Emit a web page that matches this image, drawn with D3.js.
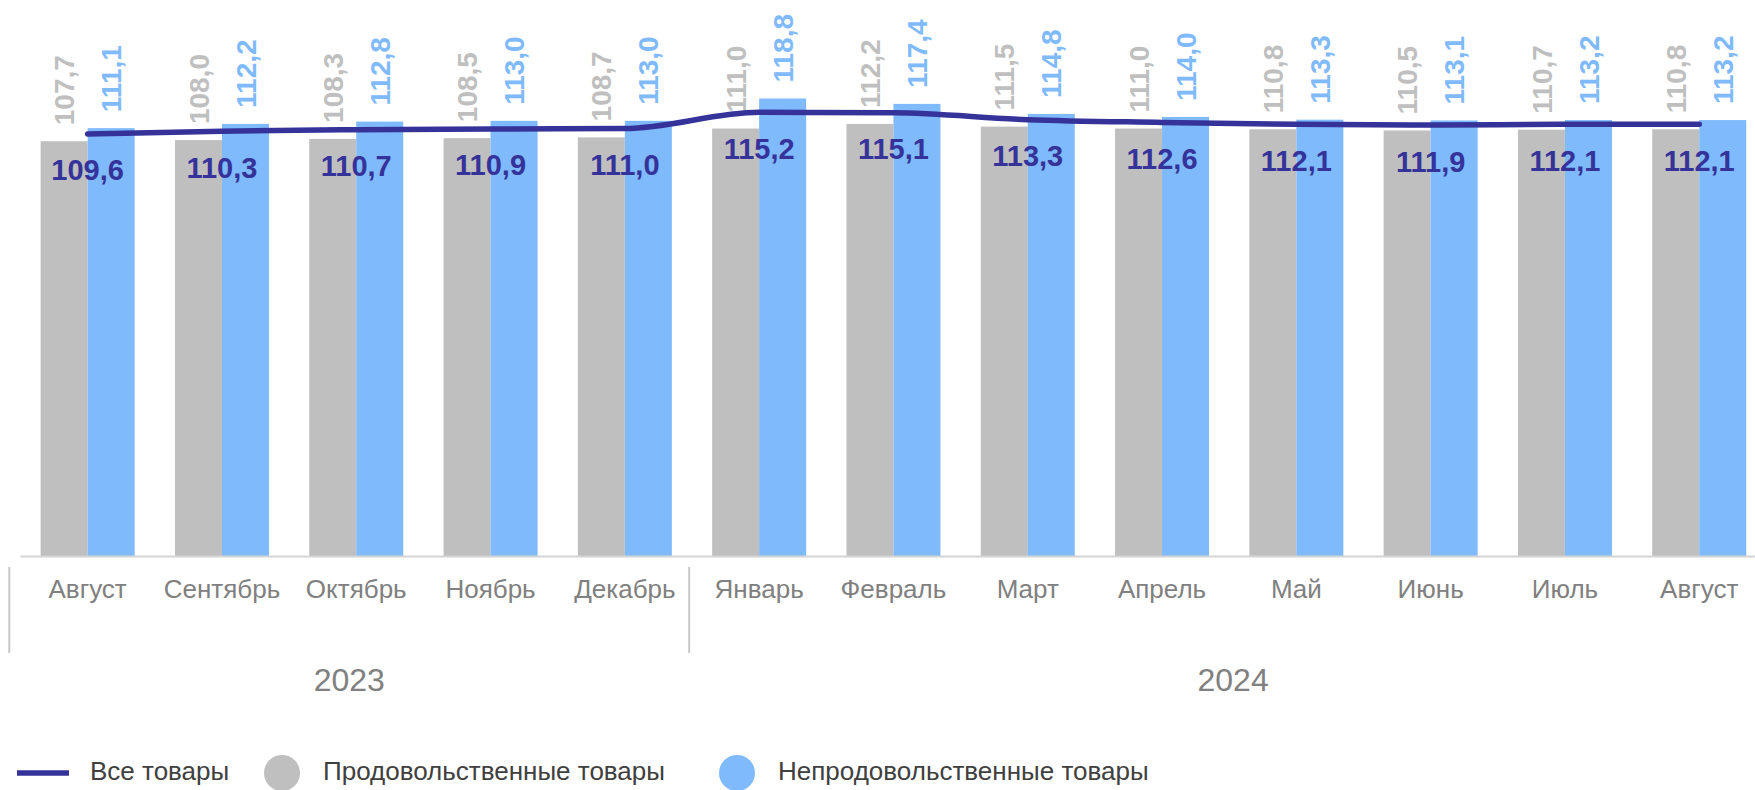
<!DOCTYPE html>
<html>
<head>
<meta charset="utf-8">
<script src="https://cdn.jsdelivr.net/npm/d3@7"></script>
<style>
  body { margin: 0; background: #fff; }
  svg { display: block; font-family: "Liberation Sans", Arial, sans-serif; }
</style>
</head>
<body>
<svg width="1755" height="790"></svg>
<script>
'use strict';

// Месяцы (подписи оси) и годы
var months = ["Август", "Сентябрь", "Октябрь", "Ноябрь", "Декабрь", "Январь", "Февраль",
  "Март", "Апрель", "Май", "Июнь", "Июль", "Август"];
var years = [
  { year: "2023", from: 0, to: 4 },
  { year: "2024", from: 5, to: 12 }
];

// Значения рядов
var foodValues = [107.7, 108.0, 108.3, 108.5, 108.7, 111.0, 112.2, 111.5, 111.0, 110.8, 110.5, 110.7, 110.8];
var nonFoodValues = [111.1, 112.2, 112.8, 113.0, 113.0, 118.8, 117.4, 114.8, 114.0, 113.3, 113.1, 113.2, 113.2];
var allValues = [109.6, 110.3, 110.7, 110.9, 111.0, 115.2, 115.1, 113.3, 112.6, 112.1, 111.9, 112.1, 112.1];

var seriesNames = ["Все товары", "Продовольственные товары", "Непродовольственные товары"];

var colLine = "#35339a", colFood = "#bfbfbf", colNonFood = "#7fbafc";
var colAxisText = "#808080";

var svg = d3.select("svg");
var idx = months.map(function (m, i) { return i; });

var baseY = 556;

var x = d3.scaleBand().domain(idx).range([20.5, 1766.4]).paddingInner(0.3).paddingOuter(0.15);
var bw = x.bandwidth() / 2;
var cx = function (i) { return x(i) + x.bandwidth() / 2; };

// шкала для разделителей годов
var xAxisBand = d3.scaleBand().domain(idx).range([9.3, 1777]);

var y = d3.scaleLinear().domain([0, 140]).range([baseY, baseY - 140 * 3.851]);

var fmt = function (v) { return d3.format(".1f")(v).replace(".", ","); };

// столбцы
var g = svg.append("g");
g.selectAll(".bar-food").data(idx).join("rect")
  .attr("class", "bar-food")
  .attr("x", function (i) { return x(i); })
  .attr("y", function (i) { return y(foodValues[i]); })
  .attr("width", bw)
  .attr("height", function (i) { return baseY - y(foodValues[i]); })
  .attr("fill", colFood);

g.selectAll(".bar-nonfood").data(idx).join("rect")
  .attr("class", "bar-nonfood")
  .attr("x", function (i) { return x(i) + bw; })
  .attr("y", function (i) { return y(nonFoodValues[i]); })
  .attr("width", bw)
  .attr("height", function (i) { return baseY - y(nonFoodValues[i]); })
  .attr("fill", colNonFood);

// ось
svg.append("line")
  .attr("x1", 20.5).attr("x2", 1755)
  .attr("y1", baseY + 0.5).attr("y2", baseY + 0.5)
  .attr("stroke", "#d4d4d4").attr("stroke-width", 2);

// подписи столбцов (повернутые)
g.selectAll(".lbl-food").data(idx).join("text")
  .attr("transform", function (i) {
    return "translate(" + (x(i) + bw / 2) + "," + (y(foodValues[i]) - 16) + ") rotate(-90)";
  })
  .attr("dy", "0.36em")
  .attr("font-size", 28).attr("font-weight", "bold")
  .attr("fill", colFood)
  .text(function (i) { return fmt(foodValues[i]); });

g.selectAll(".lbl-nonfood").data(idx).join("text")
  .attr("transform", function (i) {
    return "translate(" + (x(i) + bw * 1.5) + "," + (y(nonFoodValues[i]) - 16) + ") rotate(-90)";
  })
  .attr("dy", "0.36em")
  .attr("font-size", 28).attr("font-weight", "bold")
  .attr("fill", colNonFood)
  .text(function (i) { return fmt(nonFoodValues[i]); });

// линия
var line = d3.line()
  .x(function (i) { return cx(i); })
  .y(function (i) { return y(allValues[i]); })
  .curve(d3.curveMonotoneX);

svg.append("path")
  .datum(idx)
  .attr("d", line)
  .attr("fill", "none")
  .attr("stroke", colLine)
  .attr("stroke-width", 5.5)
  .attr("stroke-linecap", "round")
  .attr("stroke-linejoin", "round");

svg.selectAll(".lbl-all").data(idx).join("text")
  .attr("x", function (i) { return cx(i); })
  .attr("y", function (i) { return y(allValues[i]) + 46.5; })
  .attr("text-anchor", "middle")
  .attr("font-size", 29).attr("font-weight", "bold")
  .attr("fill", colLine)
  .text(function (i) { return fmt(allValues[i]); });

// подписи месяцев
svg.selectAll(".lbl-month").data(idx).join("text")
  .attr("x", function (i) { return cx(i); })
  .attr("y", 598)
  .attr("text-anchor", "middle")
  .attr("font-size", 26)
  .attr("fill", colAxisText)
  .text(function (i) { return months[i]; });

// разделители и годы
svg.selectAll(".sep").data(years).join("line")
  .attr("x1", function (d) { return xAxisBand(d.from); })
  .attr("x2", function (d) { return xAxisBand(d.from); })
  .attr("y1", 567).attr("y2", 653)
  .attr("stroke", "#c8c8c8").attr("stroke-width", 2);

svg.selectAll(".lbl-year").data(years).join("text")
  .attr("x", function (d) { return (xAxisBand(d.from) + xAxisBand(d.to) + xAxisBand.bandwidth()) / 2; })
  .attr("y", 691)
  .attr("text-anchor", "middle")
  .attr("font-size", 32)
  .attr("fill", colAxisText)
  .text(function (d) { return d.year; });

// легенда
var legY = 771;
var leg = svg.append("g").attr("font-size", 26).attr("fill", "#404040");
leg.append("line").attr("x1", 17).attr("x2", 69).attr("y1", legY + 2).attr("y2", legY + 2)
  .attr("stroke", colLine).attr("stroke-width", 5.5);
leg.append("text").attr("x", 90).attr("y", legY).attr("dy", "0.36em").text(seriesNames[0]);
leg.append("circle").attr("cx", 282).attr("cy", legY + 2).attr("r", 18).attr("fill", colFood);
leg.append("text").attr("x", 323).attr("y", legY).attr("dy", "0.36em").text(seriesNames[1]);
leg.append("circle").attr("cx", 737).attr("cy", legY + 2).attr("r", 18).attr("fill", colNonFood);
leg.append("text").attr("x", 778).attr("y", legY).attr("dy", "0.36em").text(seriesNames[2]);
</script>
</body>
</html>
